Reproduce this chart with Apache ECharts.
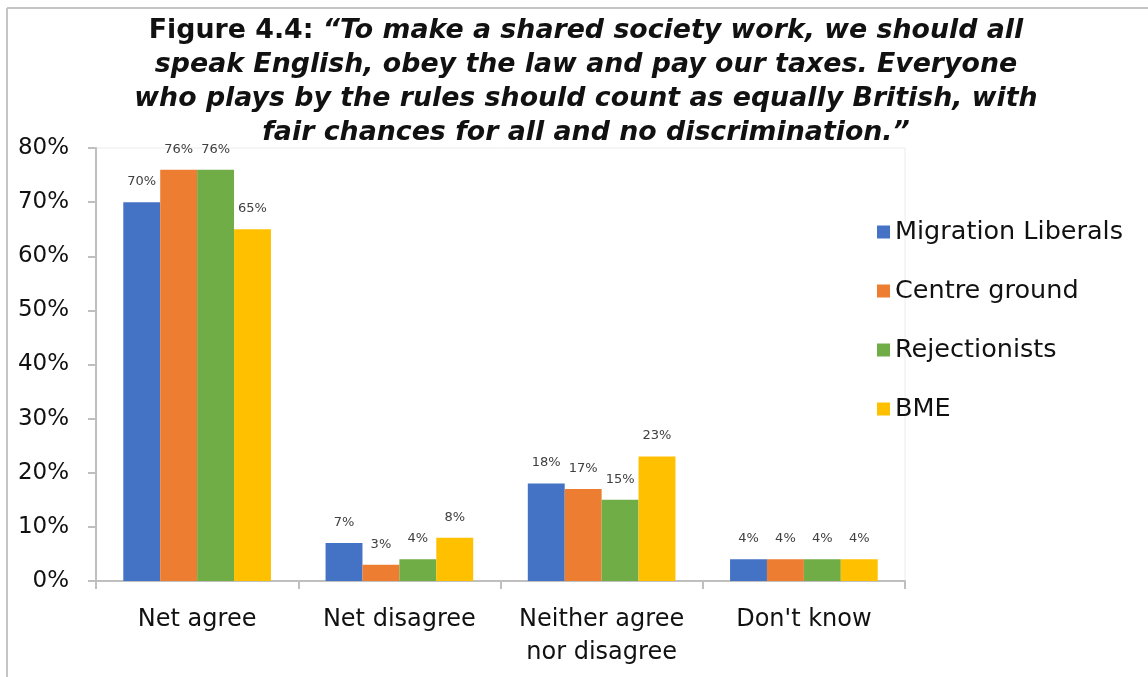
<!DOCTYPE html>
<html>
<head>
<meta charset="utf-8">
<script src="https://cdn.jsdelivr.net/npm/echarts@6/dist/echarts.min.js"></script>
<style>
html, body { margin: 0; padding: 0; background: #fff; overflow: hidden; }
#chart { position: absolute; left: 0; top: 0; width: 1148px; height: 677px; }
</style>
</head>
<body>
<div id="chart"></div>
<script>
var categories = [ 'Net agree', 'Net disagree', 'Neither agree\nnor disagree', "Don't know" ];
var seriesNames = [ 'Migration Liberals', 'Centre ground', 'Rejectionists', 'BME' ];
var migrationLiberals = [ 70, 7, 18, 4 ];
var centreGround = [ 76, 3, 17, 4 ];
var rejectionists = [ 76, 4, 15, 4 ];
var bme = [ 65, 8, 23, 4 ];
var colors = [ '#4472C4', '#ED7D31', '#70AD47', '#FFC000' ];
var yTicks = [ 0, 10, 20, 30, 40, 50, 60, 70, 80 ];

(function() {
	var myChart = echarts.init(document.getElementById('chart'));
	var values = [ migrationLiberals, centreGround, rejectionists, bme ];
	var series = [];
	for (var i = 0; i < seriesNames.length; i++) {
		series.push({
			name : seriesNames[i],
			type : 'bar',
			data : values[i],
			barGap : '0%',
			barCategoryGap : '27%',
			itemStyle : { color : colors[i] },
			label : {
				show : true,
				position : 'top',
				distance : 14,
				formatter : '{c}%',
				fontFamily : 'DejaVu Sans',
				fontSize : 13,
				color : '#404040'
			}
		});
	}
	var option = {
		animation : false,
		color : colors,
		graphic : [ {
			// outer frame, only top and left edges show
			type : 'line',
			shape : { x1 : 7, y1 : 8, x2 : 1148, y2 : 8 },
			style : { stroke : '#c4c4c4', lineWidth : 2 }
		}, {
			type : 'line',
			shape : { x1 : 7, y1 : 8, x2 : 7, y2 : 677 },
			style : { stroke : '#c4c4c4', lineWidth : 2 }
		}, {
			type : 'text',
			x : 586,
			y : 14,
			style : {
				text : '{a|Figure 4.4: }{b|“To make a shared society work, we should all}\n{b|speak English, obey the law and pay our taxes. Everyone}\n{b|who plays by the rules should count as equally British, with}\n{b|fair chances for all and no discrimination.”}',
				align : 'center',
				rich : {
					a : { fontFamily : 'DejaVu Sans', fontWeight : 'bold', fontSize : 26.8, lineHeight : 34, fill : '#111' },
					b : { fontFamily : 'DejaVu Sans', fontWeight : 'bold', fontStyle : 'italic', fontSize : 26.8, lineHeight : 34, fill : '#111' }
				}
			}
		} ],
		legend : {
			orient : 'vertical',
			left : 872,
			top : 214,
			itemWidth : 13,
			itemHeight : 13,
			itemGap : 33,
			icon : 'rect',
			textStyle : { fontFamily : 'DejaVu Sans', fontSize : 25.5, color : '#111' },
			data : seriesNames
		},
		grid : {
			left : 96,
			right : 243,
			top : 148,
			bottom : 96,
			show : true,
			borderColor : '#ececec',
			borderWidth : 1
		},
		xAxis : {
			type : 'category',
			data : categories,
			axisLine : { lineStyle : { color : '#bfbfbf', width : 2 } },
			axisTick : { show : true, length : 8, lineStyle : { color : '#bfbfbf', width : 2 } },
			axisLabel : {
				interval : 0,
				fontFamily : 'DejaVu Sans',
				fontSize : 24,
				color : '#111',
				margin : 22,
				lineHeight : 33
			}
		},
		yAxis : {
			type : 'value',
			min : yTicks[0],
			max : yTicks[yTicks.length - 1],
			interval : 10,
			splitLine : { show : false },
			axisLine : { show : true, lineStyle : { color : '#bfbfbf', width : 2 } },
			axisTick : { show : true, length : 8, lineStyle : { color : '#bfbfbf', width : 2 } },
			axisLabel : {
				formatter : '{value}%',
				fontFamily : 'DejaVu Sans',
				fontSize : 23,
				color : '#111',
				margin : 27
			}
		},
		series : series
	};
	myChart.setOption(option);
})();
</script>
</body>
</html>
